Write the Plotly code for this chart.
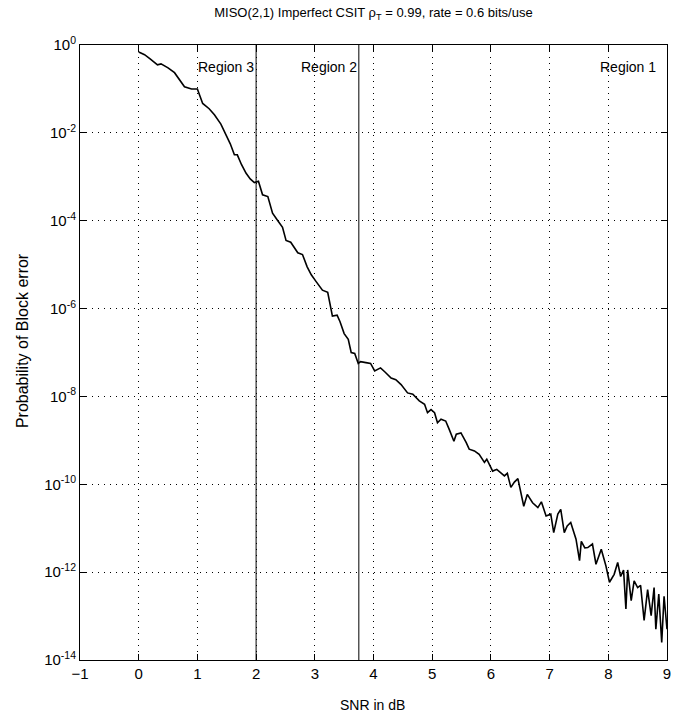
import plotly.graph_objects as go

# Block error probability vs SNR (log10 of the probability)
snr_db = [0.00, 0.10, 0.20, 0.32, 0.38, 0.50, 0.61, 0.70, 0.78, 0.90, 1.00, 1.04, 1.09, 1.20, 1.29,
          1.40, 1.49, 1.56, 1.63, 1.68, 1.75, 1.83, 1.90, 1.97, 2.04, 2.11, 2.20, 2.28, 2.37, 2.45,
          2.51, 2.59, 2.71, 2.79, 2.87, 2.94, 3.02, 3.13, 3.22, 3.30, 3.38, 3.43, 3.50, 3.57, 3.62,
          3.68, 3.74, 3.78, 3.87, 3.95, 4.02, 4.12, 4.20, 4.30, 4.38, 4.47, 4.58, 4.67, 4.78, 4.87,
          4.92, 4.98, 5.04, 5.09, 5.15, 5.23, 5.29, 5.37, 5.41, 5.49, 5.58, 5.63, 5.72, 5.80, 5.89,
          5.93, 6.03, 6.10, 6.23, 6.28, 6.34, 6.40, 6.46, 6.56, 6.62, 6.71, 6.80, 6.86, 6.94, 7.02,
          7.07, 7.14, 7.19, 7.25, 7.30, 7.36, 7.45, 7.51, 7.54, 7.60, 7.65, 7.73, 7.79, 7.88, 7.96,
          8.02, 8.10, 8.16, 8.21, 8.26, 8.30, 8.33, 8.39, 8.44, 8.50, 8.55, 8.61, 8.67, 8.73, 8.78,
          8.81, 8.86, 8.91, 8.95, 9.00]
log10_pe = [-0.16, -0.22, -0.32, -0.45, -0.43, -0.52, -0.63, -0.80, -0.95, -1.00, -1.00, -1.15, -1.33, -1.45, -1.59,
            -1.80, -2.05, -2.25, -2.50, -2.50, -2.72, -2.92, -3.05, -3.13, -3.10, -3.41, -3.45, -3.83, -4.00, -4.15,
            -4.45, -4.49, -4.73, -4.77, -5.05, -5.23, -5.38, -5.58, -5.63, -6.17, -6.15, -6.30, -6.57, -6.70, -7.00,
            -7.02, -7.25, -7.21, -7.23, -7.25, -7.42, -7.35, -7.45, -7.58, -7.62, -7.73, -7.92, -7.95, -8.10, -8.18,
            -8.37, -8.30, -8.37, -8.60, -8.52, -8.56, -8.75, -9.02, -8.86, -8.83, -9.05, -9.20, -9.24, -9.32, -9.50,
            -9.43, -9.70, -9.66, -9.81, -9.75, -10.07, -9.95, -9.87, -10.50, -10.23, -10.42, -10.53, -10.40, -10.72, -10.68,
            -11.10, -10.68, -10.57, -11.10, -10.95, -10.87, -11.25, -11.74, -11.30, -11.45, -11.44, -11.36, -11.82, -11.48, -11.86,
            -12.23, -12.05, -11.78, -12.10, -11.95, -12.84, -11.95, -12.65, -12.20, -12.35, -12.30, -13.10, -12.40, -12.99, -12.35,
            -13.30, -12.50, -13.60, -12.55, -13.30]

# Region boundaries (SNR in dB) and labels
region_bounds = [2.0, 3.75]
region_labels = ["Region 3", "Region 2", "Region 1"]
region_label_x = [1.49, 3.24, 8.34]

x_ticks = list(range(-1, 10))
y_exponents = list(range(-14, 1, 2))

sans = "Liberation Sans, Arial, Helvetica, sans-serif"

pe = [10.0 ** v for v in log10_pe]

fig = go.Figure()
fig.add_trace(go.Scatter(x=snr_db, y=pe, mode="lines",
                         line=dict(color="black", width=1.6), showlegend=False))

for xb in region_bounds:
    fig.add_shape(type="line", x0=xb, x1=xb, y0=0, y1=1, xref="x", yref="paper",
                  line=dict(color="black", width=1))

for lbl, lx in zip(region_labels, region_label_x):
    fig.add_annotation(x=lx, y=-0.5, xref="x", yref="y", text=lbl, showarrow=False,
                       font=dict(family=sans, size=14, color="black"))

fig.update_layout(
    width=698, height=724,
    margin=dict(l=80, r=31, t=45, b=64),
    paper_bgcolor="white", plot_bgcolor="white",
    title=dict(text="MISO(2,1) Imperfect CSIT ρ<sub>T</sub> = 0.99, rate = 0.6 bits/use",
               x=0.535, xanchor="center", y=0.983, yanchor="middle",
               font=dict(family=sans, size=13, color="black")),
    font=dict(family=sans, size=14, color="black"),
)

fig.update_xaxes(range=[-1, 9], tickvals=x_ticks, ticktext=[str(t).replace("-", "−") for t in x_ticks],
                 ticks="inside", ticklen=6, tickcolor="black",
                 showline=True, linecolor="black", linewidth=1, mirror="ticks",
                 showgrid=True, gridcolor="black", gridwidth=1, griddash="1px,5px",
                 zeroline=False, tickfont=dict(family=sans, size=15))

fig.update_yaxes(type="log", range=[-14, 0],
                 tickvals=[10.0 ** e for e in y_exponents],
                 ticktext=[f"10<sup>{e}</sup>" for e in y_exponents],
                 ticks="inside", ticklen=6, tickcolor="black",
                 showline=True, linecolor="black", linewidth=1, mirror="ticks",
                 showgrid=True, gridcolor="black", gridwidth=1, griddash="1px,5px",
                 zeroline=False, tickfont=dict(family=sans, size=15))

fig.add_annotation(x=-0.099, y=0.52, xref="paper", yref="paper", text="Probability of Block error",
                   textangle=-90, showarrow=False, xanchor="center", yanchor="middle",
                   font=dict(family=sans, size=16, color="black"))
fig.add_annotation(x=0.499, y=-0.073, xref="paper", yref="paper", text="SNR in dB",
                   showarrow=False, xanchor="center", yanchor="middle",
                   font=dict(family=sans, size=14, color="black"))

fig.write_html("out.html")
